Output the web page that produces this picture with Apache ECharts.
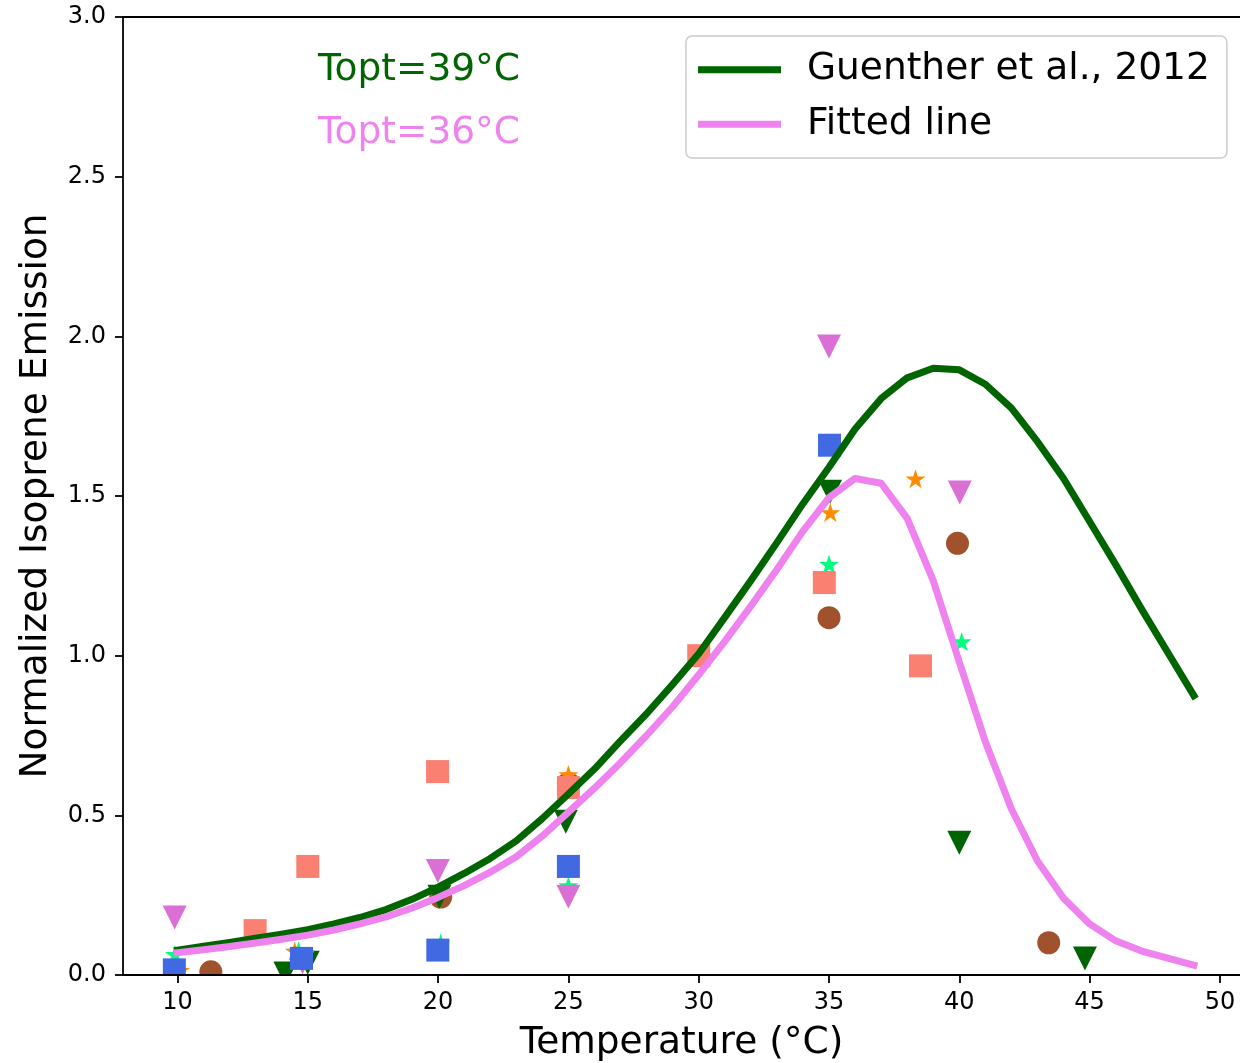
<!DOCTYPE html>
<html><head><meta charset="utf-8">
<script src="https://cdn.jsdelivr.net/npm/echarts@6/dist/echarts.min.js"></script>
<style>html,body{margin:0;padding:0;background:#fff}#c{width:1240px;height:1063px}</style>
</head><body><div id="c"></div>
<script>
// ---- data ----
const temps = [10,11,12,13,14,15,16,17,18,19,20,21,22,23,24,25,26,27,28,29,30,31,32,33,34,35,36,37,38,39,40,41,42,43,44,45,46,47,48,49];
const guenther = [0.078,0.09,0.102,0.115,0.128,0.142,0.16,0.18,0.205,0.237,0.275,0.318,0.365,0.42,0.49,0.567,0.645,0.733,0.818,0.91,1.006,1.12,1.235,1.354,1.476,1.59,1.71,1.805,1.87,1.90,1.895,1.85,1.775,1.67,1.555,1.42,1.285,1.145,1.01,0.875];
const fitted = [0.07,0.079,0.089,0.1,0.112,0.125,0.141,0.16,0.182,0.21,0.243,0.28,0.322,0.37,0.435,0.51,0.585,0.665,0.75,0.84,0.94,1.045,1.155,1.27,1.39,1.495,1.555,1.54,1.43,1.235,0.98,0.73,0.52,0.357,0.24,0.16,0.107,0.075,0.053,0.031];

const brownCircles = [[11.28,0.01],[20.1,0.244],[25.0,0.6],[35.0,1.119],[39.93,1.352],[43.43,0.101]];
const orangeStars = [[10.1,0.015],[14.5,0.075],[25.0,0.628],[35.05,1.448],[38.32,1.554]];
const greenStars = [[9.9,0.065],[14.65,0.076],[20.1,0.1],[25.0,0.28],[30.15,1.0],[35.0,1.286],[40.09,1.044]];
const darkGreenTriangles = [[14.14,0.005],[15.0,0.038],[20.05,0.245],[24.9,0.48],[35.04,1.513],[40.0,0.414],[44.82,0.052]];
const orchidTriangles = [[9.89,0.18],[14.8,0.04],[19.99,0.326],[25.0,0.245],[35.0,1.968],[40.02,1.511]];
const salmonSquares = [[12.98,0.139],[15.0,0.34],[19.98,0.637],[25.0,0.587],[30.0,1.0],[34.82,1.229],[38.51,0.968]];
const blueSquares = [[9.88,0.016],[14.76,0.052],[19.99,0.078],[25.0,0.34],[35.02,1.659]];

const xTickValues = [10,15,20,25,30,35,40,45,50];
const legendNames = ['Guenther et al., 2012','Fitted line'];
const annotations = ['Topt=39°C','Topt=36°C'];

// ---- chart ----
const FONT = 'DejaVu Sans';
const BIG = 37.5;
const STAR = 'path://M0,-100L22.45,-30.9L95.1,-30.9L36.3,11.8L58.8,80.9L0,38.2L-58.8,80.9L-36.3,11.8L-95.1,-30.9L-22.45,-30.9Z';
const chart = echarts.init(document.getElementById('c'), null, {renderer:'canvas'});

function scatter(name, data, color, symbol, size, rotate){
  return {type:'scatter', name, data, symbol, symbolSize:size, symbolRotate:rotate||0,
    itemStyle:{color, opacity:1}, z:2, silent:true, clip:false, emphasis:{disabled:true}};
}
function line(name, ys, color){
  return {type:'line', name, data: temps.map((t,i)=>[t, ys[i]]), symbol:'none', color,
    lineStyle:{color, width:7, cap:'square', join:'round'}, z:3, silent:true, emphasis:{disabled:true}};
}

const axisCommon = {
  axisLine:{show:true, onZero:false, lineStyle:{color:'#000', width:1.8}},
  axisTick:{show:true, inside:false, length:8, lineStyle:{color:'#000', width:1.8}},
  splitLine:{show:false}
};

chart.setOption({
  animation:false,
  backgroundColor:'#fff',
  grid:{left:123, top:17, right:0, bottom:88, containLabel:false, outerBoundsMode:'none'},
  xAxis:[{
    type:'value', min:7.91, max:50.77, position:'bottom', z:10,
    ...axisCommon,
    axisTick:{...axisCommon.axisTick, customValues:xTickValues},
    axisLabel:{customValues:xTickValues, color:'#000', fontFamily:FONT, fontSize:24, margin:16, formatter:v=>String(v)},
    name:'Temperature (°C)', nameLocation:'middle', nameGap:49,
    nameTextStyle:{color:'#000', fontFamily:FONT, fontSize:BIG}
  },{
    type:'value', min:7.91, max:50.77, position:'top', z:10,
    axisLine:{show:true, onZero:false, lineStyle:{color:'#000', width:1.8}},
    axisTick:{show:false}, axisLabel:{show:false}, splitLine:{show:false}
  }],
  yAxis:{
    type:'value', min:0, max:3, interval:0.5, z:10,
    ...axisCommon,
    axisLabel:{color:'#000', fontFamily:FONT, fontSize:24, margin:17, formatter:v=>v.toFixed(1)},
    name:'Normalized Isoprene Emission', nameLocation:'middle', nameGap:68, nameRotate:90,
    nameTextStyle:{color:'#000', fontFamily:FONT, fontSize:BIG}
  },
  legend:{
    data:legendNames.map(n=>({name:n, icon:'rect'})),
    orient:'vertical', left:686, top:36,
    itemWidth:83, itemHeight:7, itemGap:15,
    padding:[14,17,14,12],
    backgroundColor:'rgba(255,255,255,0.8)', borderColor:'#cccccc', borderWidth:1.5, borderRadius:6,
    textStyle:{color:'#000', fontFamily:FONT, fontSize:BIG, lineHeight:BIG, padding:[2,0,0,21]},
    selectedMode:false
  },
  graphic:[
    {type:'rect', z:5, silent:true, shape:{x:0, y:976, width:1240, height:87}, style:{fill:'#fff'}},
    {type:'text', z:6, x:318, y:70, style:{text:annotations[0], font:BIG+'px "DejaVu Sans"', fill:'#006400', verticalAlign:'middle'}},
    {type:'text', z:6, x:318, y:133, style:{text:annotations[1], font:BIG+'px "DejaVu Sans"', fill:'#ee82ee', verticalAlign:'middle'}}
  ],
  series:[
    scatter('brown', brownCircles, '#a0522d', 'circle', 23),
    scatter('orange', orangeStars, '#ff8c00', STAR, [20,19]),
    scatter('springgreen', greenStars, '#00ff7f', STAR, [20,19]),
    scatter('darkgreen', darkGreenTriangles, '#006400', 'triangle', 24, 180),
    scatter('orchid', orchidTriangles, '#da70d6', 'triangle', 24, 180),
    scatter('salmon', salmonSquares, '#fa8072', 'rect', 23),
    scatter('royalblue', blueSquares, '#4169e1', 'rect', 23),
    line(legendNames[0], guenther, '#006400'),
    line(legendNames[1], fitted, '#ee82ee')
  ]
});
</script>
</body></html>
